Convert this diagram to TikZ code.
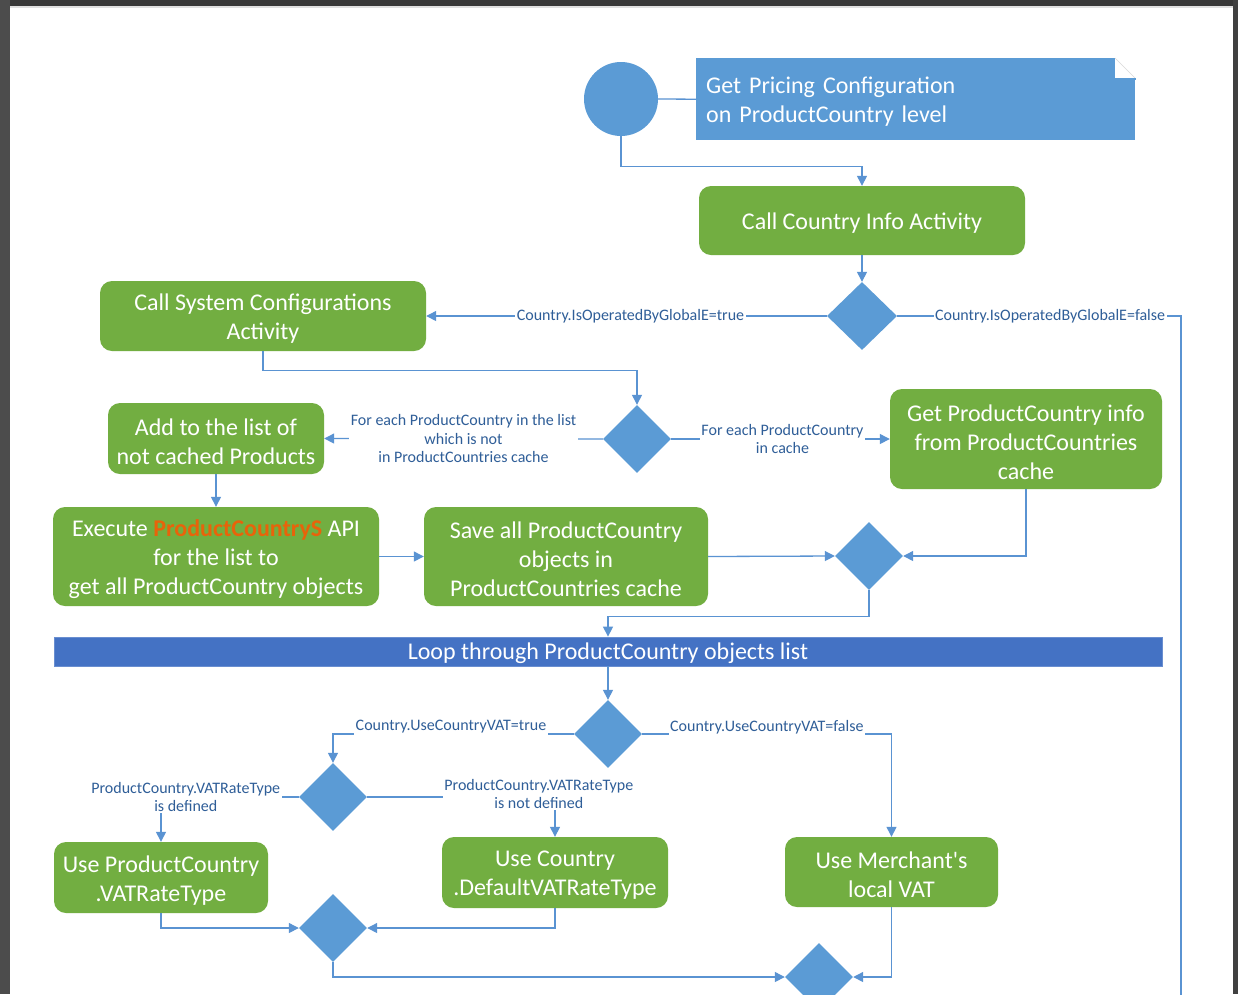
\documentclass[tikz,border=0pt]{standalone}
\usepackage{fontspec}
\setmainfont{Carlito}
\usetikzlibrary{shapes.geometric,arrows.meta}
\definecolor{gbox}{HTML}{72AE41}
\definecolor{bdia}{HTML}{5B9BD5}
\definecolor{bloop}{HTML}{4472C4}
\definecolor{lnk}{HTML}{5A93D2}
\definecolor{lbltxt}{HTML}{2F5E98}
\definecolor{orng}{HTML}{E8630A}
\begin{document}
\begin{tikzpicture}[x=1pt,y=-1pt,
  box/.style={rectangle, rounded corners=12pt, fill=gbox, inner sep=0pt},
  btext/.style={text=white, align=center, inner sep=0pt, yshift=-3pt,
              font=\fontsize{24}{29}\selectfont},
  dia/.style={diamond, fill=bdia, inner sep=0pt, minimum width=68pt, minimum height=68pt},
  conn/.style={draw=lnk, line width=1.3pt},
  arr/.style={conn, -{Triangle[length=10pt,width=10pt]}},
  lbl/.style={fill=white, text=lbltxt, align=center, inner sep=1.5pt,
              font=\fontsize{16}{18.5}\selectfont}]
\useasboundingbox (0,0) rectangle (1238,994);
% window frame
\fill[white] (0,0) rectangle (1238,994);
\fill[black!78] (0,0) rectangle (1238,6);
\fill[black!12] (10,6) rectangle (1233,7.5);
\fill[black!70] (0,0) rectangle (10,994);
\fill[black!75] (1233,0) rectangle (1238,994);

% start and note
\node[circle, fill=bdia, minimum size=74pt, inner sep=0pt] (start) at (621,99) {};
\node[rectangle, fill=bdia, text=white, anchor=north west, minimum width=439pt, minimum height=82pt,
      text width=419pt, inner xsep=10pt, inner ysep=0pt, align=left,
      font=\fontsize{24}{29}\selectfont, execute at begin node={\rule{0pt}{21pt}}] (note) at (696,58)
      {Get Pricing Configuration\\on ProductCountry level};
\fill[white] (1115,57) rectangle (1136,78);
\draw[black!15, line width=0.6pt] (1115,58) -- (1135,78);
\fill[bdia] (1115,78) rectangle (1135.5,80);

% nodes
\node[box, minimum width=326pt, minimum height=69pt, label={[btext]center:{Call Country Info Activity}}] (cci) at (862,220.5) {};
\node[dia, minimum width=70pt] (d1) at (862,316) {};
\node[box, minimum width=326pt, minimum height=70pt, label={[btext]center:{Call System Configurations\\Activity}}] (csc) at (263,316) {};
\node[dia] (d2) at (637,439) {};
\node[box, minimum width=216pt, minimum height=71pt, label={[btext]center:{Add to the list of\\not cached Products}}] (add) at (216,438.5) {};
\node[box, minimum width=272pt, minimum height=100pt, label={[btext]center:{Get ProductCountry info\\from ProductCountries\\cache}}] (gpc) at (1026,439) {};
\node[box, minimum width=326pt, minimum height=99pt, label={[btext]center:{Execute \textcolor{orng}{\textbf{ProductCountryS}} API\\for the list to\\get all ProductCountry objects}}] (exe) at (216,556.5) {};
\node[box, minimum width=284pt, minimum height=99pt, label={[btext]center:{Save all ProductCountry\\objects in\\ProductCountries cache}}] (save) at (566,556.5) {};
\node[dia] (d3) at (869,556) {};
\node[rectangle, fill=bloop, draw=bloop!80!white, line width=0.8pt, minimum width=1108pt, minimum height=29pt,
      inner sep=0pt, label={[btext, yshift=1.5pt]center:{Loop through ProductCountry objects list}}] (loop) at (608,651.5) {};
\node[dia] (d4) at (608,734) {};
\node[dia] (d5) at (333,797) {};
\node[box, minimum width=214pt, minimum height=71pt, label={[btext]center:{Use ProductCountry\\.VATRateType}}] (upc) at (161,877.5) {};
\node[box, minimum width=226pt, minimum height=71pt, label={[btext]center:{Use Country\\.DefaultVATRateType}}] (ucd) at (555,872.5) {};
\node[box, minimum width=213pt, minimum height=70pt, label={[btext]center:{Use Merchant\textquotesingle s\\local VAT}}] (umv) at (891.5,872) {};
\node[dia] (d6) at (333,928) {};
\node[dia] (d7) at (819,977) {};
\coordinate (rtop) at (1181,316);
\coordinate (rbot) at (1181,1000);

% connectors
\draw[conn] (start.east) -- (note.west);
\draw[arr] (start.south) -- ++(0,30) -| (cci.north);
\draw[arr] (cci.south) -- (d1.north);
\draw[arr] (d1.west) -- node[lbl, xshift=4pt]{Country.IsOperatedByGlobalE=true} (csc.east);
\draw[conn] (d1.east) -- node[lbl, xshift=11pt]{Country.IsOperatedByGlobalE=false} (rtop) -- (rbot);
\draw[arr] (csc.south) -- ++(0,19) -| (d2.north);
\draw[arr] (d2.west) -- node[lbl]{For each ProductCountry in the list\\which is not\\in ProductCountries cache} (add.east);
\draw[arr] (d2.east) -- node[lbl, xshift=2pt]{For each ProductCountry\\in cache} (gpc.west);
\draw[arr] (add.south) -- (exe.north);
\draw[arr] (exe.east) -- (save.west);
\draw[arr] (save.east) -- (d3.west);
\draw[arr] (gpc.south) |- (d3.east);
\draw[arr] (d3.south) -- ++(0,26) -| (loop.north);
\draw[arr] (loop.south) -- (d4.north);
\draw[arr] (d4.west) -| node[lbl, pos=0.255, yshift=7pt]{Country.UseCountryVAT=true} (d5.north);
\draw[arr] (d4.east) -| node[lbl, pos=0.25, yshift=7pt]{Country.UseCountryVAT=false} (umv.north);
\draw[arr] (d5.west) -| node[lbl, pos=0.41]{ProductCountry.VATRateType\\is defined} (upc.north);
\draw[arr] (d5.east) -| node[lbl, pos=0.457, yshift=3pt]{ProductCountry.VATRateType\\is not defined} (ucd.north);
\draw[arr] (upc.south) |- (d6.west);
\draw[arr] (ucd.south) |- (d6.east);
\draw[arr] (d6.south) |- (d7.west);
\draw[arr] (umv.south) |- (d7.east);
\end{tikzpicture}
\end{document}
